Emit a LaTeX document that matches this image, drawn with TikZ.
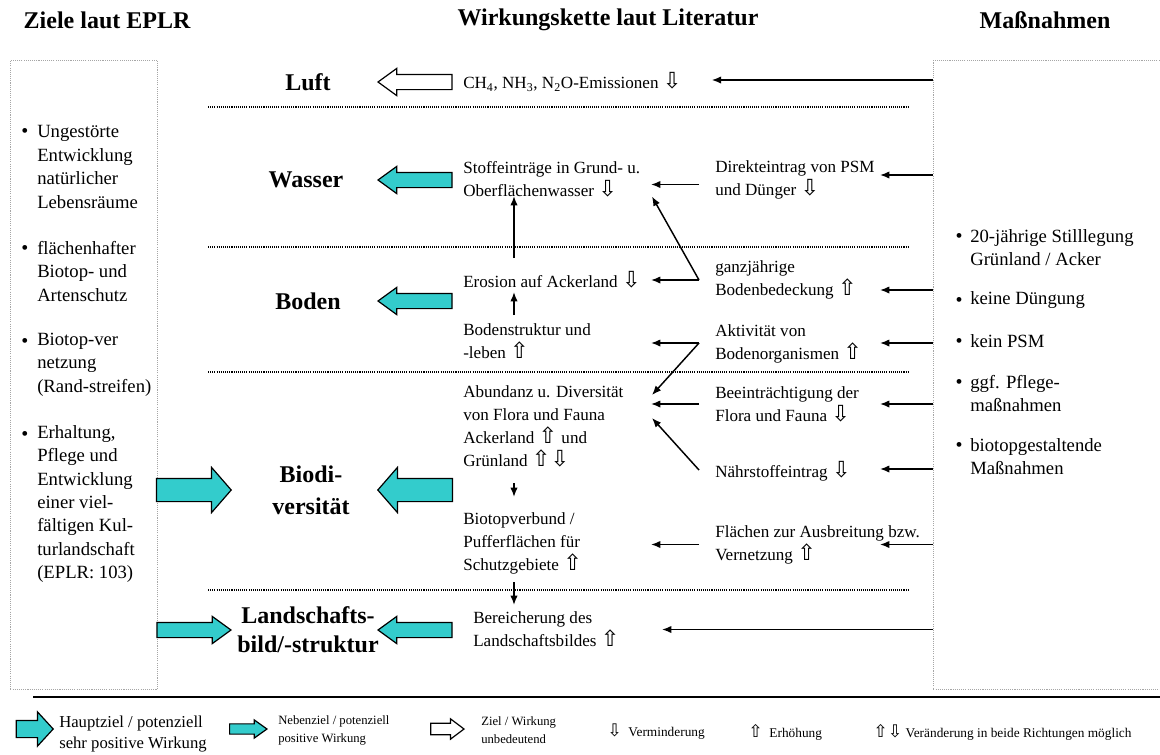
\documentclass[tikz,border=0pt]{standalone}
\usepackage{fontspec}
\setmainfont{Liberation Serif}
\newfontfamily\pfeilfont{DejaVu Sans}[Scale=1.3]
\usetikzlibrary{arrows.meta,shapes.arrows,calc}

\definecolor{tuerkis}{RGB}{51,204,204}
\newcommand{\runter}{{\pfeilfont\char"21E9}}
\newcommand{\rauf}{{\pfeilfont\char"21E7}}

\tikzset{
  kopf/.style={font=\fontsize{18}{22}\selectfont\bfseries, inner sep=0pt},
  bereich/.style={font=\fontsize{18}{23}\selectfont\bfseries, align=center, inner sep=0pt},
  txt/.style={anchor=west, align=left, inner sep=0pt, font=\fontsize{12.8}{17.25}\selectfont},
  listtxt/.style={anchor=west, align=left, inner sep=0pt, font=\fontsize{14}{17.6}\selectfont},
  punkt/.style={inner sep=0pt, font=\fontsize{15}{16}\selectfont},
  legtxt/.style={anchor=west, align=left, inner sep=0pt, font=\fontsize{12.5}{15.75}\selectfont},
  legklein/.style={anchor=west, align=left, inner sep=0pt, font=\fontsize{9.5}{13.5}\selectfont},
  pfeil/.style={-{Latex[length=7pt,width=5.5pt]}, line width=1.1pt},
  trenn/.style={line width=0.8pt, dash pattern=on 0.8pt off 0.8pt},
  kasten/.style={draw=gray!70, line width=0.6pt, dash pattern=on 0.8pt off 0.8pt, inner sep=0pt},
  % fat arrows
  fett/.style={single arrow, draw=black, line width=0.9pt, inner xsep=0pt, anchor=tip},
  haupt/.style={fett, fill=tuerkis, minimum height=56pt, inner ysep=8.25pt,
    single arrow head extend=8.25pt, single arrow tip angle=98},
  neben/.style={fett, fill=tuerkis, minimum height=55.5pt, inner ysep=5.25pt,
    single arrow head extend=4.5pt, single arrow tip angle=72},
  leer/.style={neben, fill=white},
  links/.style={shape border rotate=180},
}

\begin{document}
\begin{tikzpicture}[x=0.75pt, y=-0.75pt]
    \useasboundingbox (0,0) rectangle (1160,754);
    \clip (0,0) rectangle (1160,754);

    % Column titles
    \node[kopf] (tziele) at (107,20) {Ziele laut EPLR};
    \node[kopf] (tkette) at (608,20) {Wirkungskette laut Literatur};
    \node[kopf] (tmass) at (1045,20) {Maßnahmen};

    % Side boxes
    \node[kasten, anchor=north west, minimum width=110.25pt, minimum height=471.75pt] (ziele) at (10,60) {};
    \node[kasten, anchor=north west, minimum width=177.75pt, minimum height=471.75pt] (massn) at (933,60) {};

    % Separators
    \foreach \y in {107,247,372,590} \draw[trenn] (208,\y) -- (908,\y);

    % Goals
    \node[punkt] (zp1) at (25,133) {\textbullet};
    \node[listtxt] (z1) at (37,167) {Ungestörte\\Entwicklung\\natürlicher\\Lebensräume};
    \node[punkt] (zp2) at (25,250) {\textbullet};
    \node[listtxt] (z2) at (37,271.5) {flächenhafter\\Biotop- und\\Artenschutz};
    \node[punkt] (zp3) at (25,343) {\textbullet};
    \node[listtxt] (z3) at (37,364.5) {Biotop-ver\\netzung\\(Rand-streifen)};
    \node[punkt] (zp4) at (25,436) {\textbullet};
    \node[listtxt] (z4) at (37,504) {Erhaltung,\\Pflege und\\Entwicklung\\einer viel-\\fältigen Kul-\\turlandschaft\\(EPLR: 103)};

    % Measures
    \node[punkt] (mp1) at (959,238) {\textbullet};
    \node[listtxt] (m1) at (970,247.5) {20-jährige Stilllegung\\Grünland / Acker};
    \node[punkt] (mp2) at (959,302) {\textbullet};
    \node[listtxt] (m2) at (970,300) {keine Düngung};
    \node[punkt] (mp3) at (959,343) {\textbullet};
    \node[listtxt] (m3) at (970,341) {kein PSM};
    \node[punkt] (mp4) at (959,384) {\textbullet};
    \node[listtxt] (m4) at (970,393.5) {ggf. Pflege-\\maßnahmen};
    \node[punkt] (mp5) at (959,447) {\textbullet};
    \node[listtxt] (m5) at (970,456.5) {biotopgestaltende\\Maßnahmen};

    % Protected goods
    \node[bereich] (luft) at (308,82) {Luft};
    \node[bereich] (wasser) at (306,180) {Wasser};
    \node[bereich] (boden) at (308,301) {Boden};
    \node[bereich, font=\fontsize{18}{24}\selectfont\bfseries] (biodiv) at (311,490) {Biodi-\\versität};
    \node[bereich, font=\fontsize{18}{22}\selectfont\bfseries] (landsch) at (308,630) {Landschafts-\\bild/-struktur};

    % Effect chain, left column
    \node[txt] (ch4) at (463,82) {CH\textsubscript{4}, NH\textsubscript{3}, N\textsubscript{2}O-Emissionen \runter};
    \node[txt] (stoff) at (463,179.5) {Stoffeinträge in Grund- u.\\Oberflächenwasser \runter};
    \node[txt] (erosion) at (463,280) {Erosion auf Ackerland \runter};
    \node[txt] (bodenstr) at (463,341.5) {Bodenstruktur und\\-leben \rauf};
    \node[txt] (abund) at (463,426.5) {Abundanz u. Diversität\\von Flora und Fauna\\Ackerland \rauf{} und\\Grünland \rauf\runter};
    \node[txt] (biotop) at (463,543.5) {Biotopverbund /\\Pufferflächen für\\Schutzgebiete \rauf};
    \node[txt] (bereich) at (473,629.5) {Bereicherung des\\Landschaftsbildes \rauf};

    % Effect chain, right column
    \node[txt] (direkt) at (715,179.5) {Direkteintrag von PSM\\und Dünger \runter};
    \node[txt] (ganz) at (715,279.5) {ganzjährige\\Bodenbedeckung \rauf};
    \node[txt] (aktiv) at (715,344) {Aktivität von\\Bodenorganismen \rauf};
    \node[txt] (beeintr) at (715,404) {Beeinträchtigung der\\Flora und Fauna \runter};
    \node[txt] (naehr) at (715,471) {Nährstoffeintrag \runter};
    \node[txt] (flaechen) at (715,544.5) {Flächen zur Ausbreitung bzw.\\Vernetzung \rauf};

    % Fat arrows
    \node[leer, links] (pluft) at (377,82) {};
    \node[neben, links] (pwasser) at (377,180) {};
    \node[neben, links] (pboden) at (377,301) {};
    \node[haupt, links] (pbiodiv) at (377,490) {};
    \node[neben, links] (plandsch) at (377,630) {};
    \node[haupt] (zbiodiv) at (232,490) {};
    \node[neben] (zlandsch) at (232,630) {};

    % Helper columns for the thin arrows
    \coordinate (schaft) at (699,0);
    \coordinate (spitze) at (651,0);
    \coordinate (ein) at (880,0);
    \coordinate (senk) at (514,0);

    % Measures -> effects
    \draw[pfeil] ($(massn.west |- ch4)+(0,-2)$) -- ($(ch4.east)+(30,-2)$);
    \foreach \n/\dy in {direkt/-4.5, ganz/10.5, aktiv/-1, beeintr/0, naehr/-2, flaechen/0}
        \draw[pfeil] ($(massn.west |- \n)+(0,\dy)$) -- ($(ein |- \n)+(0,\dy)$);
    \draw[pfeil] (massn.west |- bereich) -- ($(spitze |- bereich)+(11,0)$);

    % Effects among each other
    \draw[pfeil] ($(schaft |- stoff)+(0,5)$) -- ($(spitze |- stoff)+(0,5)$);
    \coordinate (gabel1) at (schaft |- erosion);
    \draw[pfeil] (gabel1) -- (spitze |- erosion);
    \draw[pfeil] (gabel1) -- ($(spitze |- stoff)+(1,17)$);
    \coordinate (gabel2) at ($(schaft |- bodenstr)+(0,1.5)$);
    \draw[pfeil] (gabel2) -- ($(spitze |- bodenstr)+(0,1.5)$);
    \draw[pfeil] (gabel2) -- ($(spitze |- abund)+(1,-31.5)$);
    \draw[pfeil] (schaft |- beeintr) -- (spitze |- beeintr);
    \draw[pfeil] ($(schaft |- naehr)+(0,-1)$) -- ($(spitze |- abund)+(1,-8.5)$);
    \draw[pfeil] (schaft |- flaechen) -- (spitze |- flaechen);

    % Vertical chain
    \draw[pfeil] ($(senk |- erosion)+(0,-22)$) -- ($(senk |- stoff)+(0,16.5)$);
    \draw[pfeil] ($(senk |- bodenstr)+(0,-26.5)$) -- ($(senk |- erosion)+(0,12)$);
    \draw[pfeil] ($(senk |- abund)+(0,56.5)$) -- ($(senk |- biotop)+(0,-46.5)$);
    \draw[pfeil] ($(senk |- biotop)+(0,38.5)$) -- ($(senk |- bereich)+(0,-24.5)$);

    % Legend
    \draw[line width=0.8pt] (33,697) -- (1160,697);
    \node[haupt, minimum height=27.75pt, inner ysep=6pt, single arrow head extend=6.4pt, single arrow tip angle=95] (lhaupt) at (54,729) {};
    \node[legtxt] (thaupt) at (59,734.5) {Hauptziel / potenziell\\sehr positive Wirkung};
    \node[neben, minimum height=28pt, inner ysep=3.4pt, single arrow head extend=3pt, single arrow tip angle=71] (lneben) at (268,729) {};
    \node[legklein] (tneben) at (278,730) {Nebenziel / potenziell\\positive Wirkung};
    \node[leer, minimum height=25pt, inner ysep=3.8pt, single arrow head extend=3.4pt, single arrow tip angle=74] (lleer) at (465,729) {};
    \node[legklein] (tleer) at (481,730) {Ziel / Wirkung\\unbedeutend};
    \node[legklein, font=\fontsize{10}{12}\selectfont] (tminus) at (607,732) {\runter\ \ Verminderung};
    \node[legklein, font=\fontsize{10}{12}\selectfont] (tplus) at (748,732) {\rauf\ \ Erhöhung};
    \node[legklein, font=\fontsize{10}{12}\selectfont] (tbeide) at (873,732) {\rauf\runter\ Veränderung in beide Richtungen möglich};
\end{tikzpicture}
\end{document}
